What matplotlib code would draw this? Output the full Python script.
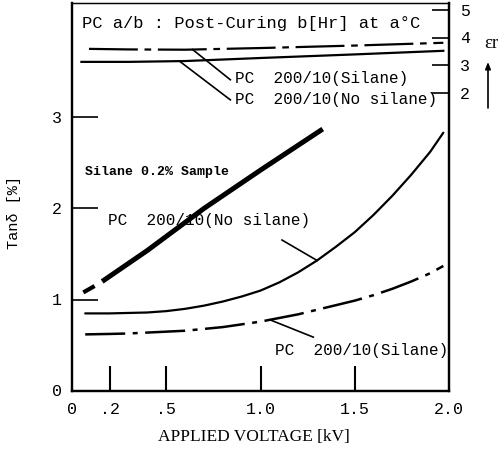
import numpy as np
import matplotlib
matplotlib.use("Agg")
import matplotlib.pyplot as plt

MONO = ["Liberation Mono", "DejaVu Sans Mono"]
SERIF = ["Liberation Serif", "DejaVu Serif"]

# Dissipation factor tan(delta) [%] vs applied voltage [kV]
kv_nosilane = [0.07, 0.2, 0.3, 0.4, 0.5, 0.6, 0.7, 0.8, 0.9, 1.0, 1.1, 1.2,
               1.3, 1.4, 1.5, 1.6, 1.7, 1.8, 1.9, 1.97]
tan_nosilane = [0.85, 0.85, 0.855, 0.86, 0.875, 0.90, 0.935, 0.98, 1.035, 1.10,
                1.19, 1.30, 1.43, 1.58, 1.74, 1.93, 2.14, 2.37, 2.62, 2.83]

kv_silane = [0.07, 0.2, 0.3, 0.4, 0.5, 0.6, 0.7, 0.8, 0.9, 1.0, 1.1, 1.2,
             1.3, 1.4, 1.5, 1.6, 1.7, 1.8, 1.9, 1.97]
tan_silane = [0.62, 0.625, 0.63, 0.64, 0.65, 0.66, 0.68, 0.70, 0.73, 0.76,
              0.80, 0.84, 0.89, 0.94, 0.99, 1.05, 1.12, 1.20, 1.29, 1.37]

kv_s02 = [0.06, 0.12, 0.16, 0.40, 0.70, 1.00, 1.33]
tan_s02 = [1.08, 1.15, 1.20, 1.54, 2.00, 2.42, 2.87]

# Relative permittivity eps_r vs applied voltage [kV]
kv_eps_silane = [0.09, 0.3, 0.6, 1.0, 1.5, 1.97]
eps_silane = [3.60, 3.58, 3.57, 3.63, 3.72, 3.82]
kv_eps_nosilane = [0.05, 0.3, 0.6, 1.0, 1.5, 1.97]
eps_nosilane = [3.13, 3.13, 3.16, 3.27, 3.40, 3.53]

x_ticks = [0.0, 0.2, 0.5, 1.0, 1.5, 2.0]
x_ticklabels = ["0", ".2", ".5", "1.0", "1.5", "2.0"]
y_ticks = [0, 1, 2, 3]
eps_ticks = [2, 3, 4, 5]

fig = plt.figure(figsize=(5.0, 4.56), dpi=100)
ax = fig.add_axes([0.144, 0.1404, 0.754, 0.8506])
ax.set_xlim(0, 2.0)
ax.set_ylim(0, 4.25)

# secondary scale for eps_r (linear, sharing the same plot area)
EPS_PER_TAN = 3.30
EPS_AT_ZERO = -8.77
ax2 = ax.twinx()
ax2.set_ylim(EPS_AT_ZERO, EPS_AT_ZERO + 4.25 * EPS_PER_TAN)

for a in (ax, ax2):
    for s in a.spines.values():
        s.set_linewidth(1.6)
        s.set_color("black")
ax.spines["top"].set_linewidth(0.9)
ax2.spines["top"].set_linewidth(0.9)

ax.set_xticks(x_ticks[1:5])
ax.set_xticklabels([])
ax.tick_params(axis="x", direction="in", length=18, width=1.5, bottom=True, top=False)
ax.set_yticks(y_ticks[1:])
ax.set_yticklabels([])
ax.tick_params(axis="y", direction="in", length=19, width=1.2, left=True, right=False)
ax2.set_yticks(eps_ticks)
ax2.set_yticklabels([])
ax2.tick_params(axis="y", direction="in", length=12, width=1.2)

# tick labels as text so every label (including the ones without tick marks) is placed
for xv, lab in zip(x_ticks, x_ticklabels):
    ax.text(xv, -0.19, lab, ha="center", va="center", fontsize=12, family=MONO,
            clip_on=False)
for yv in y_ticks:
    ax.text(-0.08, yv, str(yv), ha="center", va="center", fontsize=12, family=MONO,
            clip_on=False)
for ev in eps_ticks:
    ax2.text(2.085, ev, str(ev), ha="center", va="center", fontsize=12, family=MONO,
             clip_on=False)

# tan(delta) curves
ax.plot(kv_nosilane, tan_nosilane, color="black", lw=1.6, solid_capstyle="round")
ax.plot(kv_silane, tan_silane, color="black", lw=1.8,
        linestyle=(0, (16, 3, 2, 3)))
ax.plot(kv_s02[:2], tan_s02[:2], color="black", lw=3.0, solid_capstyle="butt")
ax.plot(kv_s02[2:], tan_s02[2:], color="black", lw=3.6, solid_capstyle="butt")

# eps_r curves
ax2.plot(kv_eps_silane, eps_silane, color="black", lw=1.6,
         linestyle=(0, (22, 3, 3, 3)))
ax2.plot(kv_eps_nosilane, eps_nosilane, color="black", lw=1.6)

# labels and leader lines
txt_kw = dict(family=MONO, fontsize=11.5, ha="left", va="center")
ax.text(0.053, 4.04, "PC a/b : Post-Curing b[Hr] at a\u00b0C", family=MONO,
        fontsize=12.3, ha="left", va="center")

ax.text(0.865, 3.44, "PC  200/10(Silane)", **txt_kw)
ax.text(0.865, 3.20, "PC  200/10(No silane)", **txt_kw)
ax.text(0.069, 2.41, "Silane 0.2% Sample", family=MONO, fontsize=9.5,
        fontweight="bold", ha="left", va="center")
ax.text(0.19, 1.88, "PC  200/10(No silane)", **txt_kw)
ax.text(1.077, 0.45, "PC  200/10(Silane)", **txt_kw)


def eps_to_tan(e):
    return (e - EPS_AT_ZERO) / EPS_PER_TAN


def leader(x0, y0, x1, y1):
    ax.plot([x0, x1], [y0, y1], color="black", lw=1.2)


leader(0.84, 3.41, 0.64, eps_to_tan(np.interp(0.64, kv_eps_silane, eps_silane)))
leader(0.84, 3.19, 0.57, eps_to_tan(np.interp(0.57, kv_eps_nosilane, eps_nosilane)))
leader(1.114, 1.654, 1.30, np.interp(1.30, kv_nosilane, tan_nosilane))
leader(1.28, 0.59, 1.05, np.interp(1.05, kv_silane, tan_silane))

fig.text(0.507, 0.042, "APPLIED VOLTAGE [kV]", family=SERIF, fontsize=12.5,
         ha="center", va="center")
fig.text(0.028, 0.535, "Tan\u03b4 [%]", family=MONO, fontsize=11, rotation=90,
         ha="center", va="center")

# eps_r axis title with upward arrow
fig.text(0.968, 0.905, "\u03b5r", family=SERIF, fontsize=13.5, ha="left", va="center")
fig.patches.append(matplotlib.patches.FancyArrowPatch(
    (0.976, 0.755), (0.976, 0.868), transform=fig.transFigure,
    arrowstyle="-|>,head_length=4,head_width=1.6", lw=1.2, color="black"))

fig.savefig("out.png", dpi=100)
